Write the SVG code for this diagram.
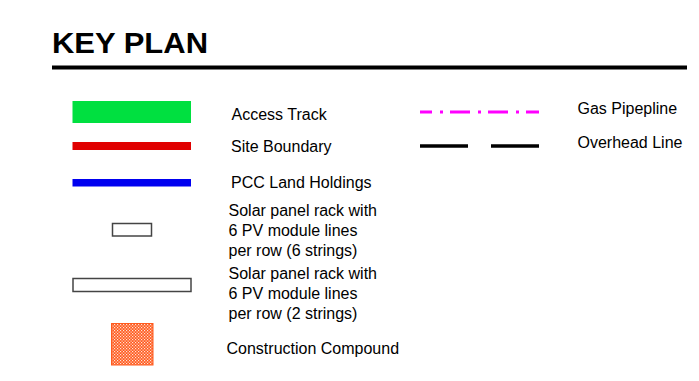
<svg xmlns="http://www.w3.org/2000/svg" width="699" height="381" viewBox="0 0 699 381">
<style>
  text { font-family: "Liberation Sans", Arial, sans-serif; fill: #000; }
  .lbl { font-size: 16px; }
  .title { font-size: 29px; font-weight: bold; }
  .rack { fill: #fff; stroke: #444; stroke-width: 1.5; }
</style>
<defs>
  <pattern id="hatch" width="3" height="3" patternUnits="userSpaceOnUse">
    <rect width="3" height="3" fill="#ff5a1e"/>
    <rect x="0" y="0" width="1.2" height="1.2" fill="#ffe4d8"/>
    <rect x="1.5" y="1.5" width="1.2" height="1.2" fill="#ffe4d8"/>
  </pattern>
</defs>
<rect width="699" height="381" fill="#fff"/>
<g id="title">
  <text class="title" x="52" y="53" textLength="156" lengthAdjust="spacingAndGlyphs">KEY PLAN</text>
  <line x1="52" y1="67.5" x2="687" y2="67.5" stroke="#000" stroke-width="4"/>
</g>
<g id="access-track">
  <rect x="72.5" y="101" width="118.5" height="22" fill="#00e040"/>
  <text class="lbl" x="231.5" y="120">Access Track</text>
</g>
<g id="site-boundary">
  <rect x="72.5" y="142" width="118.5" height="8" fill="#e00000"/>
  <text class="lbl" x="231" y="152">Site Boundary</text>
</g>
<g id="pcc-land">
  <rect x="72.5" y="179" width="118.5" height="7.5" fill="#0000f0"/>
  <text class="lbl" x="231" y="188">PCC Land Holdings</text>
</g>
<g id="solar-6">
  <rect class="rack" x="112.5" y="223.5" width="39" height="12.5"/>
  <text class="lbl" x="228.5" y="216">Solar panel rack with</text>
  <text class="lbl" x="228.5" y="236">6 PV module lines</text>
  <text class="lbl" x="228.5" y="256">per row (6 strings)</text>
</g>
<g id="solar-2">
  <rect class="rack" x="73" y="278.5" width="118" height="13"/>
  <text class="lbl" x="228.5" y="279">Solar panel rack with</text>
  <text class="lbl" x="228.5" y="299">6 PV module lines</text>
  <text class="lbl" x="228.5" y="319">per row (2 strings)</text>
</g>
<g id="compound">
  <rect x="111.5" y="323.5" width="41.5" height="41.5" fill="url(#hatch)" stroke="#ff5a1e" stroke-width="1"/>
  <text class="lbl" x="226.5" y="354">Construction Compound</text>
</g>
<g id="gas">
  <line x1="420" y1="112" x2="539" y2="112" stroke="#ff00ff" stroke-width="2.8" stroke-dasharray="12 8 3 7 20 8 3 7 20 8 3 7 20 8"/>
  <text class="lbl" x="577.5" y="114">Gas Pipepline</text>
</g>
<g id="overhead">
  <line x1="420" y1="146" x2="468" y2="146" stroke="#000" stroke-width="3.5"/>
  <line x1="491" y1="146" x2="539" y2="146" stroke="#000" stroke-width="3.5"/>
  <text class="lbl" x="577.5" y="148">Overhead Line</text>
</g>
</svg>
